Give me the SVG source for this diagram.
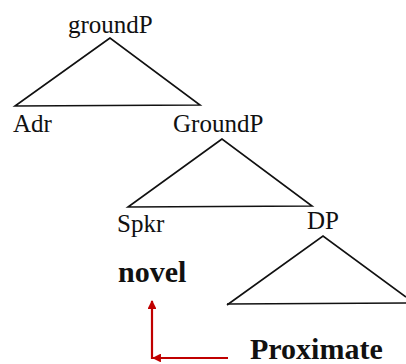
<svg xmlns="http://www.w3.org/2000/svg" width="406" height="364" viewBox="0 0 406 364">
<defs>
<style>
.lbl{font-family:"Liberation Serif","Times New Roman",serif;font-size:25px;fill:#111}
.bld{font-family:"Liberation Serif","Times New Roman",serif;font-size:30px;font-weight:bold;fill:#111}
.tri{fill:none;stroke:#111;stroke-width:1.6;stroke-linejoin:miter}
.arr{fill:none;stroke:#c00000;stroke-width:2.2}
</style>
<marker id="ah" viewBox="0 0 10 10" refX="9" refY="5" markerWidth="4" markerHeight="4" orient="auto" markerUnits="strokeWidth">
<path d="M0,0 L10,5 L0,10 z" fill="#c00000"/>
</marker>
</defs>
<rect width="406" height="364" fill="#fff"/>
<g id="connectors">
<polygon class="tri" points="110,38 15,106 200,105"/>
<polygon class="tri" points="222,139 128,207 312,206"/>
<polyline class="tri" points="227,305 323,236 406,297"/>
<line class="tri" x1="227" y1="304" x2="406" y2="303"/>
<line class="arr" x1="228" y1="358" x2="153" y2="358" marker-end="url(#ah)"/>
<line class="arr" x1="152" y1="359" x2="152" y2="301" marker-end="url(#ah)"/>
</g>
<g id="groundP"><text class="lbl" x="68" y="33">groundP</text></g>
<g id="Adr"><text class="lbl" x="13" y="132">Adr</text></g>
<g id="GroundP"><text class="lbl" x="173" y="132">GroundP</text></g>
<g id="Spkr"><text class="lbl" x="117" y="232">Spkr</text></g>
<g id="DP"><text class="lbl" x="307" y="229">DP</text></g>
<g id="novel"><text class="bld" x="118" y="282">novel</text></g>
<g id="Proximate"><text class="bld" x="250" y="359">Proximate</text></g>
</svg>
